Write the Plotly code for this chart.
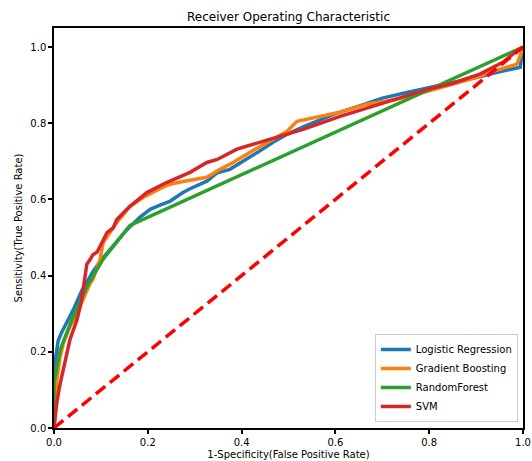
import plotly.graph_objects as go

# ---- data ----
lr_fpr = [0, 0, 0.004, 0.009, 0.016, 0.023, 0.032, 0.041, 0.05, 0.06, 0.071, 0.083, 0.1, 0.119, 0.137, 0.155,
          0.183, 0.205, 0.226, 0.247, 0.275, 0.29, 0.326, 0.348, 0.375, 0.418, 0.445, 0.467, 0.497, 0.53, 0.56,
          0.6, 0.65, 0.7, 0.75, 0.8, 0.85, 0.9, 0.95, 0.994, 1.0]
lr_tpr = [0, 0.12, 0.19, 0.23, 0.25, 0.266, 0.285, 0.31, 0.335, 0.363, 0.385, 0.41, 0.44, 0.468, 0.495, 0.52,
          0.553, 0.574, 0.585, 0.595, 0.618, 0.628, 0.648, 0.67, 0.679, 0.71, 0.732, 0.75, 0.771, 0.79, 0.805,
          0.825, 0.845, 0.866, 0.88, 0.893, 0.905, 0.92, 0.935, 0.947, 1.0]

gb_fpr = [0, 0.002, 0.006, 0.012, 0.02, 0.034, 0.045, 0.055, 0.07, 0.077, 0.083, 0.098, 0.105, 0.12, 0.134,
          0.162, 0.19, 0.226, 0.247, 0.275, 0.326, 0.354, 0.382, 0.418, 0.467, 0.497, 0.518, 0.56, 0.61, 0.667,
          0.731, 0.8, 0.844, 0.9, 0.93, 0.987, 0.995, 1.0]
gb_tpr = [0, 0.05, 0.126, 0.18, 0.223, 0.266, 0.29, 0.318, 0.363, 0.38, 0.39, 0.442, 0.487, 0.513, 0.54,
          0.582, 0.605, 0.628, 0.64, 0.647, 0.658, 0.679, 0.697, 0.724, 0.758, 0.779, 0.805, 0.815, 0.829, 0.85,
          0.863, 0.885, 0.9, 0.92, 0.934, 0.955, 0.98, 1.0]

rf_fpr = [0, 0, 0.013, 0.038, 0.070, 0.104, 0.162, 1.0]
rf_tpr = [0, 0.12, 0.205, 0.284, 0.371, 0.442, 0.532, 1.0]

svm_fpr = [0, 0.003, 0.006, 0.012, 0.02, 0.034, 0.049, 0.058, 0.062, 0.066, 0.07, 0.077, 0.083, 0.092, 0.098,
           0.105, 0.113, 0.126, 0.134, 0.162, 0.198, 0.241, 0.29, 0.326, 0.348, 0.39, 0.44, 0.482, 0.531, 0.61,
           0.68, 0.75, 0.8, 0.85, 0.908, 0.957, 0.987, 1.0]
svm_tpr = [0, 0.04, 0.066, 0.11, 0.153, 0.232, 0.284, 0.33, 0.363, 0.397, 0.43, 0.442, 0.455, 0.462, 0.476,
           0.49, 0.513, 0.525, 0.547, 0.582, 0.618, 0.645, 0.671, 0.697, 0.705, 0.732, 0.75, 0.766, 0.784, 0.818,
           0.845, 0.87, 0.89, 0.905, 0.929, 0.96, 0.99, 1.0]

diag = [0, 1]
tick_vals = [0.0, 0.2, 0.4, 0.6, 0.8, 1.0]

series = [
    ("Logistic Regression", lr_fpr, lr_tpr, "#1f77b4"),
    ("Gradient Boosting", gb_fpr, gb_tpr, "#ff7f0e"),
    ("RandomForest", rf_fpr, rf_tpr, "#2ca02c"),
    ("SVM", svm_fpr, svm_tpr, "#d62728"),
]

FONT = "DejaVu Sans"
fig = go.Figure()
for name, x, y, c in series:
    fig.add_trace(go.Scatter(x=x, y=y, mode="lines", name=name,
                             line=dict(color=c, width=3.5)))
fig.add_trace(go.Scatter(x=diag, y=diag, mode="lines", showlegend=False,
                         line=dict(color="#ff0000", width=3.5, dash="12px,6px")))

axis_common = dict(showline=True, linecolor="black", linewidth=1.5, mirror=True,
                   ticks="outside", ticklen=4, tickwidth=1.5, tickcolor="black",
                   showgrid=False, zeroline=False, tickvals=tick_vals, tickformat=".1f",
                   automargin=False,
                   tickfont=dict(family=FONT, size=10, color="black"))

fig.update_layout(
    width=532, height=461,
    margin=dict(l=54, r=9, t=28, b=33),
    paper_bgcolor="white", plot_bgcolor="white",
    title=dict(text="Receiver Operating Characteristic", x=(54 + 234.5) / 532, xanchor="center",
               y=1 - 17 / 461, yanchor="middle",
               font=dict(family=FONT, size=12, color="black")),
    xaxis=dict(range=[0, 1], title=dict(text="1-Specificity(False Positive Rate)", standoff=4,
                                        font=dict(family=FONT, size=10, color="black")), **axis_common),
    yaxis=dict(range=[0, 1.05], title=dict(text="Sensitivity(True Positive Rate)", standoff=6,
                                           font=dict(family=FONT, size=10, color="black")), **axis_common),
    legend=dict(x=0.989, y=0.015, xanchor="right", yanchor="bottom",
                bordercolor="#cccccc", borderwidth=1, bgcolor="rgba(255,255,255,0.8)",
                font=dict(family=FONT, size=10, color="black"), tracegroupgap=0),
    showlegend=True,
)

fig.write_html("out.html")
